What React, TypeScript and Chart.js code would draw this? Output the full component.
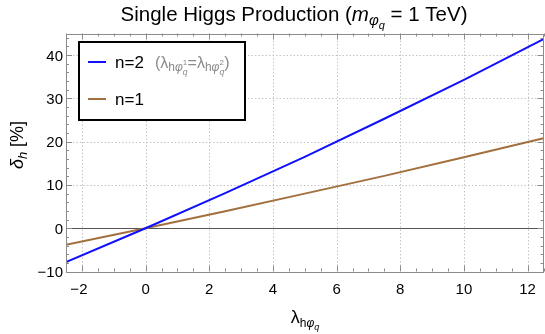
import React, { useEffect, useRef } from "react";
import { Chart, registerables } from "chart.js";
Chart.register(...registerables);

const lambdaValues = [-2.5, 0, 2.5, 5, 7.5, 10, 12.5];
const n2Values = [-7.8, 0, 8.1, 16.5, 25.3, 34.3, 43.7];
const n1Values = [-3.8, 0, 3.9, 8.0, 12.1, 16.4, 20.8];
const xTicks = [-2, 0, 2, 4, 6, 8, 10, 12];
const yTicks = [-10, 0, 10, 20, 30, 40];
const xRange = [-2.5, 12.5];
const yRange = [-10, 45];

const FF = '"Liberation Sans", Arial, Helvetica, sans-serif';
const BLUE = "#1010ff";
const BROWN = "#a2703e";

type Seg = { t: string; size: number; italic?: boolean; dy?: number; noAdv?: boolean; color?: string };

function fontOf(s: Seg) {
  return `${s.italic ? "italic " : ""}${s.size}px ${FF}`;
}
function measureRich(ctx: CanvasRenderingContext2D, segs: Seg[]) {
  let w = 0;
  for (const s of segs) {
    ctx.font = fontOf(s);
    if (!s.noAdv) w += ctx.measureText(s.t).width;
  }
  return w;
}
function drawRich(ctx: CanvasRenderingContext2D, segs: Seg[], x: number, y: number, align: "left" | "center", color: string) {
  let cx = align === "center" ? x - measureRich(ctx, segs) / 2 : x;
  ctx.textAlign = "left";
  ctx.textBaseline = "alphabetic";
  for (const s of segs) {
    ctx.font = fontOf(s);
    ctx.fillStyle = s.color || color;
    ctx.fillText(s.t, cx, y + (s.dy || 0));
    if (!s.noAdv) cx += ctx.measureText(s.t).width;
  }
}
const fmt = (v: number) => (v < 0 ? "\u2212" + Math.abs(v) : String(v));

const decor = {
  id: "decor",
  beforeDatasetsDraw(chart: any) {
    const { ctx, chartArea: a } = chart;
    const xs = chart.scales.x, ys = chart.scales.y;
    ctx.save();
    ctx.strokeStyle = "#c4c4c4";
    ctx.lineWidth = 1;
    ctx.setLineDash([1.5, 2]);
    for (const v of xTicks) {
      const x = Math.round(xs.getPixelForValue(v)) + 0.5;
      ctx.beginPath(); ctx.moveTo(x, a.top); ctx.lineTo(x, a.bottom); ctx.stroke();
    }
    for (const v of yTicks) {
      if (v === 0) continue;
      const y = Math.round(ys.getPixelForValue(v)) + 0.5;
      ctx.beginPath(); ctx.moveTo(a.left, y); ctx.lineTo(a.right, y); ctx.stroke();
    }
    ctx.setLineDash([]);
    ctx.strokeStyle = "#555";
    const y0 = Math.round(ys.getPixelForValue(0)) + 0.5;
    ctx.beginPath(); ctx.moveTo(a.left, y0); ctx.lineTo(a.right, y0); ctx.stroke();
    ctx.restore();
  },
  afterDatasetsDraw(chart: any) {
    const { ctx, chartArea: a } = chart;
    const xs = chart.scales.x, ys = chart.scales.y;
    ctx.save();
    // frame
    ctx.strokeStyle = "#8c8c8c";
    ctx.lineWidth = 1;
    ctx.strokeRect(Math.round(a.left) + 0.5, Math.round(a.top) + 0.5, Math.round(a.right - a.left) - 1, Math.round(a.bottom - a.top));
    // ticks
    ctx.beginPath();
    for (let v = xRange[0]; v <= xRange[1] + 1e-9; v += 0.5) {
      const major = xTicks.includes(v);
      const len = major ? 6 : 3;
      const x = Math.round(xs.getPixelForValue(v)) + 0.5;
      ctx.moveTo(x, a.bottom); ctx.lineTo(x, a.bottom - len);
      ctx.moveTo(x, a.top); ctx.lineTo(x, a.top + len);
    }
    for (let v = yRange[0]; v <= yRange[1] + 1e-9; v += 2) {
      const major = yTicks.includes(v);
      const len = major ? 6 : 3;
      const y = Math.round(ys.getPixelForValue(v)) + 0.5;
      ctx.moveTo(a.left, y); ctx.lineTo(a.left + len, y);
      ctx.moveTo(a.right, y); ctx.lineTo(a.right - len, y);
    }
    ctx.stroke();
    // tick labels
    ctx.fillStyle = "#000";
    ctx.font = `15px ${FF}`;
    ctx.textBaseline = "alphabetic";
    ctx.textAlign = "center";
    for (const v of xTicks) {
      ctx.fillText(fmt(v), xs.getPixelForValue(v) - (v < 0 ? 3 : 0), 294);
    }
    ctx.textAlign = "right";
    for (const v of yTicks) {
      ctx.fillText(fmt(v), a.left - 3, ys.getPixelForValue(v) + 5.5);
    }
    // title
    drawRich(ctx, [
      { t: "Single Higgs Production (", size: 20.5 },
      { t: "m", size: 20.5, italic: true },
      { t: "\u03c6", size: 15, italic: true, dy: 4 },
      { t: "q", size: 11, italic: true, dy: 8 },
      { t: " = 1 TeV)", size: 20.5 },
    ], 294, 21, "center", "#000");
    // x axis title
    drawRich(ctx, [
      { t: "\u03bb", size: 18 },
      { t: "h", size: 12, dy: 4 },
      { t: "\u03c6", size: 12, italic: true, dy: 4 },
      { t: "q", size: 9, italic: true, dy: 7 },
    ], 305, 323, "center", "#000");
    // y axis title
    ctx.save();
    ctx.translate(23, 145);
    ctx.rotate(-Math.PI / 2);
    drawRich(ctx, [
      { t: "\u03b4", size: 18, italic: true },
      { t: "h", size: 13, italic: true, dy: 4 },
      { t: " [%]", size: 18 },
    ], 0, 0, "center", "#000");
    ctx.restore();
    // legend
    ctx.fillStyle = "#fff";
    ctx.fillRect(79, 42, 166, 78);
    ctx.strokeStyle = "#000";
    ctx.lineWidth = 2;
    ctx.strokeRect(79, 42, 166, 78);
    ctx.lineWidth = 2;
    ctx.strokeStyle = BLUE;
    ctx.beginPath(); ctx.moveTo(88, 62); ctx.lineTo(106, 62); ctx.stroke();
    ctx.strokeStyle = BROWN;
    ctx.beginPath(); ctx.moveTo(88, 99); ctx.lineTo(106, 99); ctx.stroke();
    drawRich(ctx, [{ t: "n=2", size: 17 }], 115, 68, "left", "#000");
    drawRich(ctx, [{ t: "n=1", size: 17 }], 115, 105, "left", "#000");
    drawRich(ctx, [
      { t: "(", size: 16 },
      { t: "\u03bb", size: 16 },
      { t: "h", size: 12, dy: 3 },
      { t: "\u03c6", size: 12, italic: true, dy: 3 },
      { t: "1", size: 8, dy: -3, noAdv: true },
      { t: "q", size: 8.5, italic: true, dy: 7 },
      { t: "=", size: 16 },
      { t: "\u03bb", size: 16 },
      { t: "h", size: 12, dy: 3 },
      { t: "\u03c6", size: 12, italic: true, dy: 3 },
      { t: "2", size: 8, dy: -3, noAdv: true },
      { t: "q", size: 8.5, italic: true, dy: 7 },
      { t: ")", size: 16 },
    ], 155, 68, "left", "#8a8a8a");
    ctx.restore();
  },
};

export default function App() {
  const ref = useRef<HTMLCanvasElement>(null);
  useEffect(() => {
    if (!ref.current) return;
    const chart = new Chart(ref.current, {
      type: "line",
      data: {
        datasets: [
          {
            label: "n=2",
            data: lambdaValues.map((x, i) => ({ x, y: n2Values[i] })),
            borderColor: BLUE,
            borderWidth: 2,
            pointRadius: 0,
            fill: false,
          },
          {
            label: "n=1",
            data: lambdaValues.map((x, i) => ({ x, y: n1Values[i] })),
            borderColor: BROWN,
            borderWidth: 2,
            pointRadius: 0,
            fill: false,
          },
        ],
      },
      options: {
        animation: false,
        responsive: false,
        layout: { padding: { left: 66, right: 1.5, top: 33.5, bottom: 62.5 } },
        plugins: { legend: { display: false }, title: { display: false }, tooltip: { enabled: false } },
        scales: {
          x: { type: "linear", display: false, min: xRange[0], max: xRange[1] },
          y: { type: "linear", display: false, min: yRange[0], max: yRange[1] },
        },
      },
      plugins: [decor],
    });
    return () => chart.destroy();
  }, []);
  return (
    <div style={{ position: "fixed", left: 0, top: 0, width: 545, height: 334, background: "#fff" }}>
      <canvas ref={ref} width={545} height={334} style={{ display: "block" }} />
    </div>
  );
}
